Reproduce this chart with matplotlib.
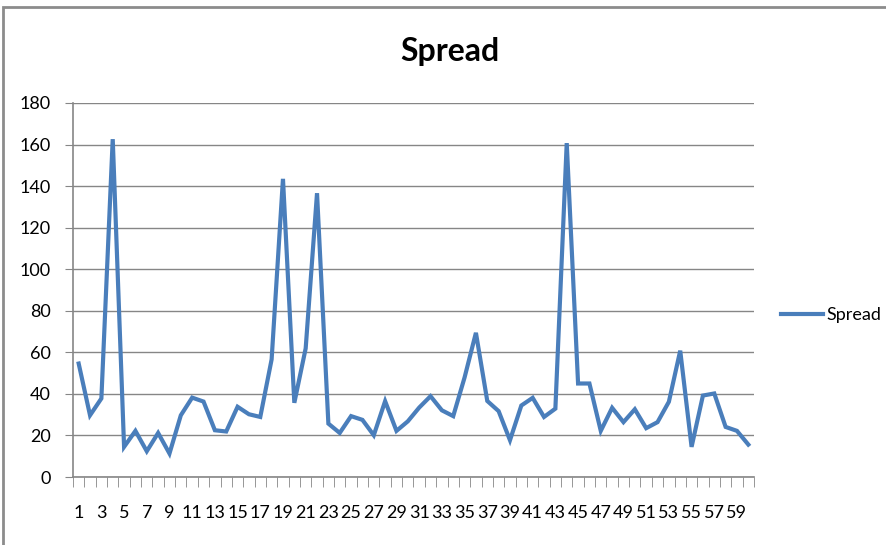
import numpy as np
import matplotlib.pyplot as plt
from matplotlib.patches import Rectangle

plt.rcParams['font.family'] = ['Lato', 'DejaVu Sans']

# Dados
periodos = list(range(1, 61))
spread = [54.6, 29.7, 37.8, 162.6, 14.5, 22.2, 12.4, 21.2, 11.3, 29.7,
          38.2, 36.3, 22.5, 21.9, 33.8, 30.2, 28.9, 56.6, 143.5, 35.7,
          61.9, 136.6, 25.7, 21.2, 29.3, 27.5, 20.1, 36.5, 22.2, 26.8,
          33.4, 38.9, 32.1, 29.3, 47.9, 69.4, 36.6, 31.7, 17.7, 34.4,
          38.1, 28.9, 32.9, 160.7, 45.0, 45.0, 22.2, 33.3, 26.4, 32.6,
          23.5, 26.4, 36.2, 60.8, 14.5, 39.2, 40.2, 24.1, 22.2, 15.6]
yticks = list(range(0, 181, 20))

fig = plt.figure(figsize=(8.87, 5.45), dpi=100)
ax = fig.add_axes([73/887, 1 - 477/545, (754 - 73)/887, (477 - 103)/545])

x = np.arange(len(periodos))
ax.plot(x, spread, color='#4a7ebb', lw=3, solid_joinstyle='miter', label='Spread')

ax.set_xlim(-0.5, len(periodos) - 0.5)
ax.set_ylim(0, 180)
ax.set_yticks(yticks)
ax.set_yticklabels([str(v) for v in yticks], fontsize=13)
ax.set_xticks(x[::2])
ax.set_xticklabels([str(p) for p in periodos[::2]], fontsize=13)
ax.set_xticks(np.arange(len(periodos) + 1) - 0.5, minor=True)
ax.tick_params(axis='x', which='major', length=0, pad=20)
ax.tick_params(axis='x', which='minor', length=7, color='#868686', direction='out')
ax.tick_params(axis='y', length=6, color='#868686', pad=10)

ax.grid(axis='y', color='#868686', lw=1)
ax.set_axisbelow(True)
for s in ['top', 'right']:
    ax.spines[s].set_visible(False)
for s in ['left', 'bottom']:
    ax.spines[s].set_color('#868686')
    ax.spines[s].set_linewidth(1.2)

fig.text(450/887, 1 - 52/545, 'Spread', fontsize=23, fontweight='bold',
         ha='center', va='center')

ax.legend(loc='center left', bbox_to_anchor=(781/887, 1 - 315/545),
          bbox_transform=fig.transFigure, frameon=False, fontsize=13,
          handlelength=2.3, handletextpad=0.2, borderaxespad=0, borderpad=0)

# moldura do gráfico
fig.patches.append(Rectangle((3/887, -0.05), 1.0, 1 - 7/545 + 0.05,
                             transform=fig.transFigure, fill=False,
                             edgecolor='#8c8c8c', lw=2))

plt.savefig('out.png', dpi=100)
